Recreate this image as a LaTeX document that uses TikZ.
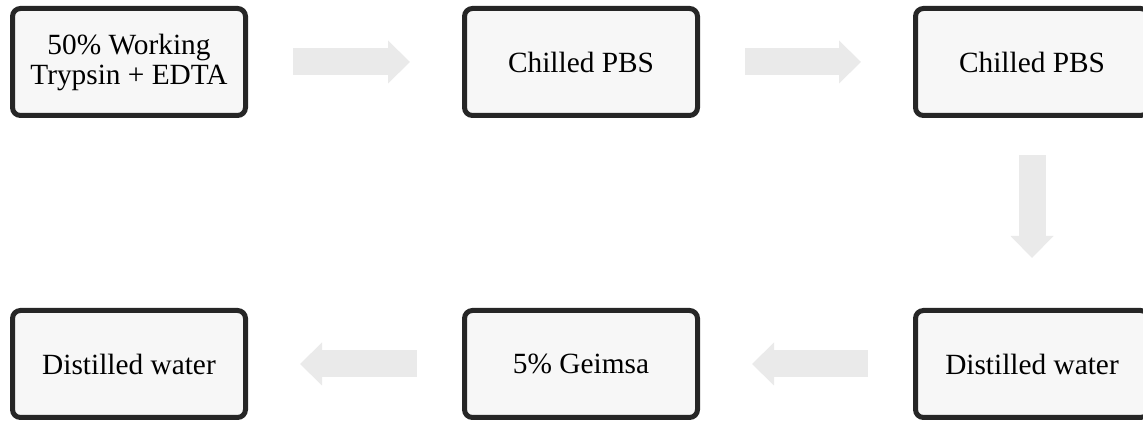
\documentclass[tikz,border=0pt]{standalone}
\usepackage{fontspec}
\setmainfont{Liberation Serif}
\usetikzlibrary{arrows.meta}
\definecolor{boxfill}{HTML}{F7F7F7}
\definecolor{boxline}{HTML}{262626}
\definecolor{arrowgray}{HTML}{EAEAEA}
\begin{document}
\begin{tikzpicture}[x=0.75pt, y=-0.75pt,
  stepbox/.style={draw=boxline, fill=boxfill, line width=3.75pt, rounded corners=6pt,
    minimum width=174.75pt, minimum height=80.25pt, align=center,
    font=\fontsize{22}{22.5}\selectfont},
  flow/.style={draw=arrowgray, line width=20.25pt,
    -{Triangle[length=16.5pt, width=32.25pt, line width=0pt]},
    shorten <=33.75pt, shorten >=39pt}]
\useasboundingbox (0,0) rectangle (1143,423);
\clip (0,0) rectangle (1143,423);
\node[stepbox] (a) at (129,62) {50\% Working\\Trypsin + EDTA};
\node[stepbox] (b) at (581,62) {Chilled PBS};
\node[stepbox] (c) at (1032,62) {Chilled PBS};
\node[stepbox] (f) at (1032,364) {Distilled water};
\node[stepbox] (e) at (581,364) {5\% Geimsa};
\node[stepbox] (d) at (129,364) {Distilled water};

\draw[flow] (a) -- (b);
\draw[flow] (b) -- (c);
\draw[flow, shorten <=27.75pt, shorten >=37.5pt] (c) -- (f);
\draw[flow] (f) -- (e);
\draw[flow] (e) -- (d);
\end{tikzpicture}
\end{document}
